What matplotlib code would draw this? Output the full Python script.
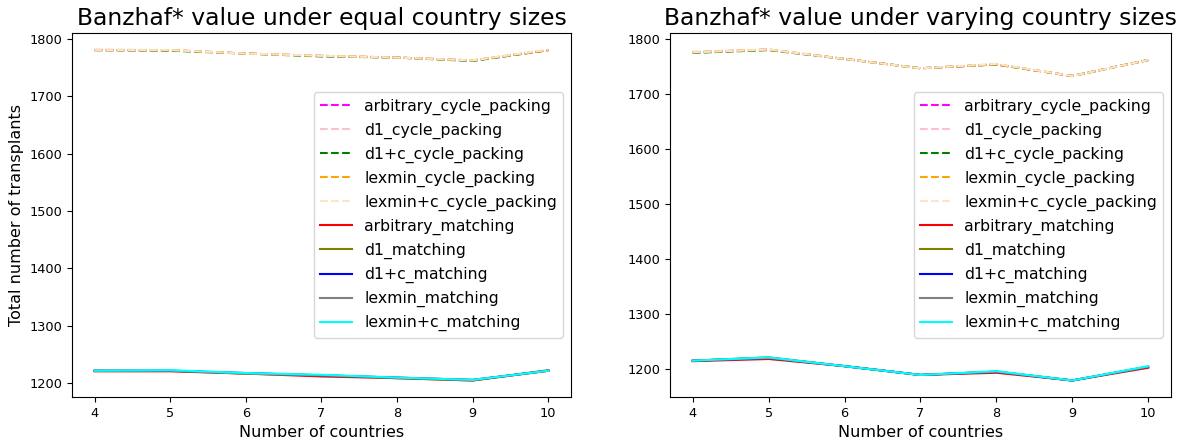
import matplotlib
matplotlib.use("Agg")
import matplotlib.pyplot as plt

countries = [4, 5, 6, 7, 8, 9, 10]

series_names = [
    "arbitrary_cycle_packing", "d1_cycle_packing", "d1+c_cycle_packing",
    "lexmin_cycle_packing", "lexmin+c_cycle_packing",
    "arbitrary_matching", "d1_matching", "d1+c_matching",
    "lexmin_matching", "lexmin+c_matching",
]
series_colors = ["magenta", "pink", "green", "orange", "bisque",
                 "red", "olive", "blue", "gray", "cyan"]
series_styles = ["--"] * 5 + ["-"] * 5

# equal country sizes
equal_values = [
    [1781, 1781, 1775, 1771, 1768, 1763, 1781],
    [1782, 1781, 1775, 1771, 1768, 1763, 1781],
    [1781, 1780, 1775, 1770, 1768, 1762, 1781],
    [1781, 1781, 1775, 1771, 1768, 1763, 1781],
    [1781, 1781, 1775, 1771, 1768, 1763, 1782],
    [1220, 1220, 1216, 1211, 1208, 1204, 1221],
    [1221, 1221, 1216, 1213, 1208, 1204, 1222],
    [1221, 1221, 1217, 1213, 1209, 1205, 1221],
    [1221, 1221, 1216, 1213, 1209, 1205, 1221],
    [1221, 1222, 1217, 1214, 1209, 1205, 1221],
]

# varying country sizes
varying_values = [
    [1776, 1781, 1764, 1747, 1754, 1733, 1762],
    [1777, 1781, 1764, 1747, 1754, 1733, 1762],
    [1775, 1780, 1764, 1747, 1754, 1733, 1762],
    [1776, 1781, 1764, 1747, 1754, 1733, 1762],
    [1776, 1781, 1764, 1747, 1755, 1733, 1762],
    [1215, 1219, 1206, 1190, 1194, 1180, 1203],
    [1216, 1222, 1206, 1190, 1196, 1180, 1205],
    [1216, 1221, 1206, 1190, 1196, 1180, 1205],
    [1216, 1221, 1206, 1190, 1196, 1180, 1205],
    [1216, 1222, 1206, 1190, 1197, 1180, 1206],
]

fig = plt.figure(figsize=(11.86, 4.43), dpi=100)
ax1 = fig.add_axes([0.0607, 0.1038, 0.4207, 0.8217])
ax2 = fig.add_axes([0.5649, 0.1038, 0.4224, 0.8217])

for ax, data, title in [(ax1, equal_values, "Banzhaf* value under equal country sizes"),
                        (ax2, varying_values, "Banzhaf* value under varying country sizes")]:
    for name, vals, c, ls in zip(series_names, data, series_colors, series_styles):
        ax.plot(countries, vals, linestyle=ls, color=c, label=name)
    ax.set_title(title, fontsize=16.9)
    ax.set_xlabel("Number of countries", fontsize=11.5)
    ax.tick_params(labelsize=9.3)
    ax.legend(loc="center right", fontsize=11.3)

ax1.set_ylabel("Total number of transplants", fontsize=11.5)

fig.savefig("out.png", dpi=100)
